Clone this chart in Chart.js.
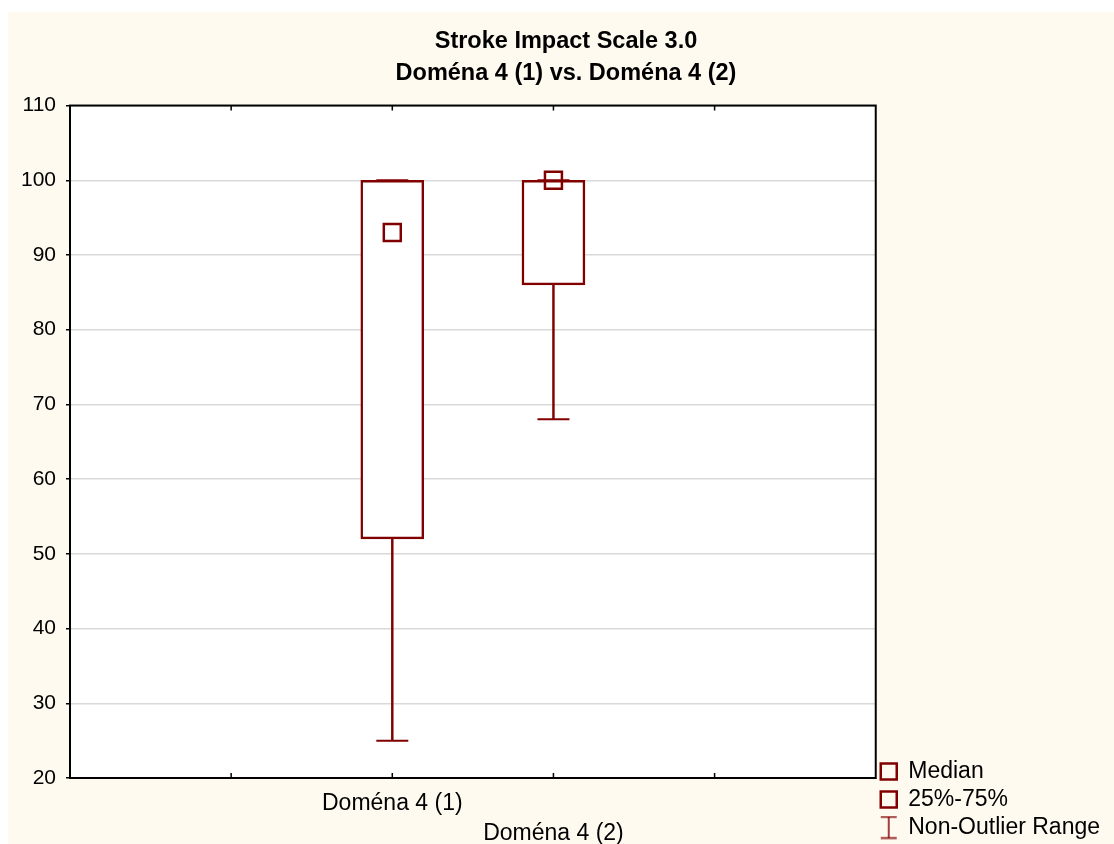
<!DOCTYPE html>
<html>
<head>
<meta charset="utf-8">
<script src="https://cdn.jsdelivr.net/npm/chart.js@4.4.1/dist/chart.umd.min.js"></script>
<style>
  html, body { margin: 0; padding: 0; background: #fff; }
  #wrap { width: 1114px; height: 844px; }
</style>
</head>
<body>
<div id="wrap"><canvas id="boxChart"></canvas></div>
<script>
// ---- data ----
const categories = ['Doména 4 (1)', 'Doména 4 (2)'];
const medians = [93, 100];
const lowerQuartiles = [52, 86];
const upperQuartiles = [100, 100];
const whiskerLows = [25, 68];
const whiskerHighs = [100, 100];

const xTickLabels = ['', '', 'Doména 4 (1)', 'Doména 4 (2)', '', ''];
const legendLabels = ['Median', '25%-75%', 'Non-Outlier Range'];
const titleLines = ['Stroke Impact Scale 3.0', 'Doména 4 (1) vs. Doména 4 (2)'];
const yMin = 20, yMax = 110, yStep = 10;

const red = '#800000';
Chart.defaults.font.family = "'Liberation Sans', Arial, sans-serif";
Chart.defaults.color = '#000';

// I-beam icon for the legend
const rangeIcon = document.createElement('canvas');
rangeIcon.width = 18; rangeIcon.height = 24;
(function () {
  const c = rangeIcon.getContext('2d');
  c.strokeStyle = red; c.lineWidth = 1.5;
  c.beginPath();
  c.moveTo(1, 1.5); c.lineTo(17, 1.5);
  c.moveTo(9, 1.5); c.lineTo(9, 22.5);
  c.moveTo(1, 22.5); c.lineTo(17, 22.5);
  c.stroke();
})();

// cream page, white plot, black frame and inward ticks
const frame = {
  id: 'frame',
  beforeDraw(chart) {
    const {ctx, chartArea: a, width, height} = chart;
    ctx.save();
    ctx.fillStyle = '#fefaf0';
    ctx.fillRect(8, 12, width - 8, height - 12);
    ctx.fillStyle = '#fff';
    ctx.fillRect(a.left, a.top, a.right - a.left, a.bottom - a.top);
    ctx.restore();
  },
  afterDraw(chart) {
    const {ctx, chartArea: a} = chart;
    const xs = chart.scales.x;
    ctx.save();
    ctx.strokeStyle = '#000';
    ctx.lineWidth = 2;
    ctx.strokeRect(a.left, a.top, a.right - a.left, a.bottom - a.top);
    ctx.lineWidth = 1.5;
    ctx.beginPath();
    for (let i = 1; i < xs.ticks.length - 1; i++) {
      const px = xs.getPixelForTick(i);
      ctx.moveTo(px, a.top); ctx.lineTo(px, a.top + 5);
      ctx.moveTo(px, a.bottom); ctx.lineTo(px, a.bottom - 5);
    }
    ctx.stroke();
    ctx.restore();
  }
};

const medianPoints = categories.map((c, i) => ({x: c, y: medians[i]}));
const capPoints = categories.map((c, i) => ({x: c, y: whiskerLows[i]}))
  .concat(categories.map((c, i) => ({x: c, y: whiskerHighs[i]})));
const boxBars = categories.map((c, i) => ({x: c, y: [lowerQuartiles[i], upperQuartiles[i]]}));
const whiskerBars = categories.map((c, i) => ({x: c, y: [whiskerLows[i], whiskerHighs[i]]}));

new Chart(document.getElementById('boxChart'), {
  type: 'bar',
  data: {
    labels: xTickLabels,
    datasets: [
      { type: 'scatter', label: 'Median', data: medianPoints, order: 0,
        pointStyle: 'rect', pointRadius: 12, pointBorderWidth: 2.5,
        pointBorderColor: red, pointBackgroundColor: 'rgba(0,0,0,0)' },
      { type: 'scatter', label: 'caps', data: capPoints, order: 1,
        pointStyle: 'line', pointRadius: 16, pointBorderWidth: 2, pointBorderColor: red },
      { type: 'bar', label: '25%-75%', data: boxBars, order: 2, grouped: false,
        backgroundColor: '#fff', borderColor: red, borderWidth: 2.5, borderSkipped: false, barThickness: 63 },
      { type: 'bar', label: 'Non-Outlier Range', data: whiskerBars, order: 3, grouped: false,
        backgroundColor: red, borderWidth: 0, barThickness: 1.8 }
    ]
  },
  options: {
    responsive: true,
    maintainAspectRatio: false,
    animation: false,
    events: [],
    layout: { padding: { left: 22, right: 4 } },
    plugins: {
      title: {
        display: true, text: titleLines, color: '#000',
        font: { size: 23.5, weight: 'bold', lineHeight: 1.32 },
        padding: { top: 26.5, bottom: 17 }
      },
      legend: {
        position: 'right', align: 'end',
        labels: {
          usePointStyle: true, boxWidth: 16, boxHeight: 16, padding: 5,
          color: '#000', font: { size: 23 },
          generateLabels: () => legendLabels.map((text, i) => ({
            text, pointStyle: i === 2 ? rangeIcon : 'rect',
            fillStyle: 'rgba(0,0,0,0)', strokeStyle: red, lineWidth: 2.5,
            hidden: false, datasetIndex: i
          }))
        }
      },
      tooltip: { enabled: false }
    },
    scales: {
      x: {
        type: 'category', offset: false,
        grid: { display: false, drawTicks: false },
        border: { display: true, color: '#000', width: 2 },
        ticks: {
          autoSkip: false, maxRotation: 0, padding: 11, color: '#000',
          font: { size: 23, lineHeight: 1.3 },
          callback(v, i) {
            const l = this.getLabelForValue(v);
            return i % 2 ? ['', l] : l;
          }
        },
        afterFit(s) { s.height = 66; }
      },
      y: {
        min: yMin, max: yMax,
        ticks: { stepSize: yStep, padding: 10, color: '#000', font: { size: 21 } },
        grid: { color: '#d9d9d9', lineWidth: 1.5, tickLength: 4, tickColor: '#000' },
        border: { color: '#000', width: 2 },
        afterFit(s) { s.width = 48; }
      }
    }
  },
  plugins: [frame]
});
</script>
</body>
</html>
